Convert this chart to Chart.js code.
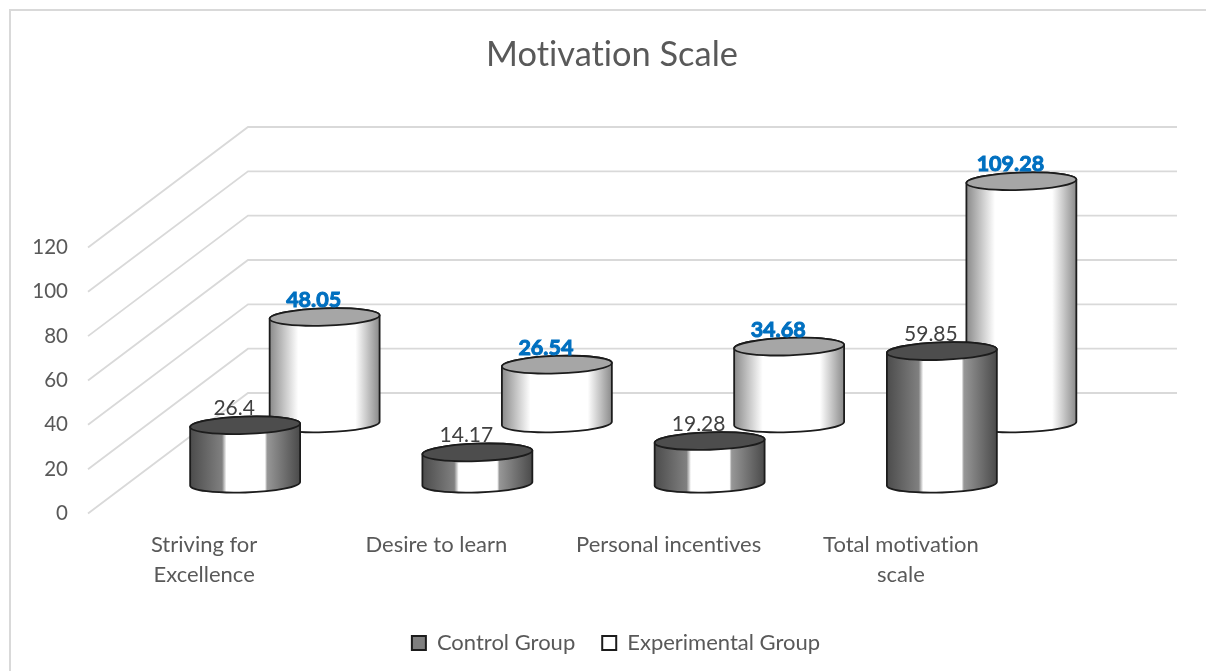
<!DOCTYPE html>
<html lang="en">
<head>
<meta charset="UTF-8"/>
<title>Motivation Scale</title>
<script src="https://cdn.jsdelivr.net/npm/chart.js@4.4.7/dist/chart.umd.min.js"></script>
<style>
*{box-sizing:border-box;margin:0;padding:0}
html,body{width:1206px;height:671px;background:#fff;overflow:hidden}
.wrap{position:relative;width:1206px;height:671px}
</style>
</head>
<body>
<div class="wrap"><canvas id="chart" width="1206" height="671"></canvas></div>
<script>
const categories = [['Striving for', 'Excellence'], 'Desire to learn', 'Personal incentives', ['Total motivation', 'scale']];
const controlGroup = [26.4, 14.17, 19.28, 59.85];
const experimentalGroup = [48.05, 26.54, 34.68, 109.28];
const yTicks = [0, 20, 40, 60, 80, 100, 120];

const FONT = "Lato, 'Open Sans', sans-serif";
const TEXT = '#595959';
const GRID = '#d9d9d9';
// the wall sits this far behind the front plane of the fake 3D box
const WALL_DX = 160;
const WALL_DY = -120.5;
const TILT = -0.033;
const RY = 8.7;

class CylinderController extends Chart.BarController {
  draw() {
    const ctx = this.chart.ctx;
    const ds = this.getDataset();
    const meta = this.getMeta();
    meta.data.forEach((el, i) => {
      const cx = el.x + ds.depthX;
      const top = el.y + ds.depthY;
      const bottom = el.base + ds.depthY;
      const rx = el.width / 2;

      const grad = ctx.createLinearGradient(cx - rx, 0, cx + rx, 0);
      ds.sideStops.forEach(([p, c]) => grad.addColorStop(p, c));

      ctx.save();
      ctx.lineWidth = 1.8;
      ctx.strokeStyle = ds.borderColor;
      ctx.beginPath();
      ctx.ellipse(cx, top, rx, RY, TILT, Math.PI, Math.PI * 2);
      ctx.ellipse(cx, bottom, rx, RY, TILT, 0, Math.PI);
      ctx.closePath();
      ctx.fillStyle = grad;
      ctx.fill();
      ctx.stroke();

      ctx.beginPath();
      ctx.ellipse(cx, top, rx, RY, TILT, 0, Math.PI * 2);
      ctx.fillStyle = ds.topColor;
      ctx.fill();
      ctx.stroke();

      ctx.font = ds.labelFont;
      ctx.fillStyle = ds.labelColor;
      ctx.textAlign = 'center';
      ctx.textBaseline = 'middle';
      const lx = cx - 11;
      const ly = top - 17;
      ctx.fillText(String(ds.data[i]), lx, ly);
      if (ds.labelStroke) {
        ctx.strokeStyle = ds.labelColor;
        ctx.lineWidth = ds.labelStroke;
        ctx.strokeText(String(ds.data[i]), lx, ly);
      }
      ctx.restore();
    });
  }
}
CylinderController.id = 'cylinder';
CylinderController.defaults = Chart.BarController.defaults;
CylinderController.overrides = Chart.BarController.overrides;
Chart.register(CylinderController);

const wallGrid = {
  id: 'wallGrid',
  beforeDatasetsDraw(chart) {
    const { ctx, scales: { y }, chartArea } = chart;
    ctx.save();
    ctx.strokeStyle = GRID;
    ctx.lineWidth = 1.8;
    y.ticks.forEach((t) => {
      const py = y.getPixelForValue(t.value);
      ctx.beginPath();
      ctx.moveTo(chartArea.left, py);
      ctx.lineTo(chartArea.left + WALL_DX, py + WALL_DY);
      ctx.lineTo(chartArea.right + WALL_DX, py + WALL_DY);
      ctx.stroke();
    });
    ctx.restore();
  },
};

const frame = {
  id: 'frame',
  afterLayout(chart) {
    // legend sits a little right of the page centre
    chart.legend.left += 4;
    chart.legend.right += 4;
  },
  beforeDraw(chart) {
    const { ctx } = chart;
    // no ligatures, the "ti" in Lato looks wrong here
    ctx.textRendering = 'optimizeSpeed';
    ctx.save();
    // the crop only shows the top and left edges of the frame
    ctx.strokeStyle = GRID;
    ctx.lineWidth = 2;
    ctx.strokeRect(10, 10, 1300, 800);
    ctx.restore();
  },
};

new Chart(document.getElementById('chart'), {
  type: 'cylinder',
  data: {
    labels: categories,
    datasets: [
      {
        label: 'Control Group',
        data: controlGroup,
        backgroundColor: '#7f7f7f',
        borderColor: '#1c1c1c',
        borderWidth: 2,
        clip: false,
        topColor: '#4d4d4d',
        sideStops: [[0, '#4c4c4c'], [0.29, '#808080'], [0.33, '#ffffff'], [0.68, '#ffffff'], [0.7, '#979797'], [1, '#4a4a4a']],
        depthX: 41,
        depthY: -29.7,
        labelFont: `21px ${FONT}`,
        labelColor: '#404040',
        labelStroke: 0,
      },
      {
        label: 'Experimental Group',
        data: experimentalGroup,
        backgroundColor: '#ffffff',
        borderColor: '#1c1c1c',
        borderWidth: 2,
        clip: false,
        topColor: '#a6a6a6',
        sideStops: [[0, '#8a8a8a'], [0.26, '#ffffff'], [0.78, '#ffffff'], [1, '#8a8a8a']],
        depthX: 120.5,
        depthY: -90,
        labelFont: `bold 21.5px ${FONT}`,
        labelColor: '#0070c0',
        labelStroke: 1,
      },
    ],
  },
  options: {
    responsive: false,
    animation: false,
    events: [],
    grouped: false,
    barThickness: 110,
    layout: { padding: { left: 18, right: 0, top: 0, bottom: 7 } },
    plugins: {
      tooltip: { enabled: false },
      title: {
        display: true,
        text: 'Motivation Scale',
        color: TEXT,
        font: { family: FONT, size: 34.4, weight: 'normal', lineHeight: 1.2 },
        padding: { top: 34.4, bottom: 171.8 },
      },
      legend: {
        position: 'bottom',
        labels: {
          color: TEXT,
          font: { family: FONT, size: 22 },
          boxWidth: 14,
          boxHeight: 14,
          padding: 27,
        },
      },
    },
    scales: {
      x: {
        type: 'category',
        offset: true,
        grid: { display: false },
        border: { display: false },
        ticks: { color: TEXT, font: { family: FONT, size: 22, lineHeight: 1.35 }, padding: 8.5, maxRotation: 0, autoSkip: false },
        afterFit: (s) => { s.height = 91.5; },
      },
      y: {
        type: 'linear',
        min: yTicks[0],
        max: yTicks[yTicks.length - 1],
        grid: { display: false, drawTicks: false },
        border: { display: false },
        ticks: { color: TEXT, font: { family: FONT, size: 20.5 }, padding: 20, stepSize: 20 },
        afterFit: (s) => { s.width = 70; },
      },
      // empty box on the right, keeps room for the depth of the wall
      depthGutter: {
        type: 'linear',
        position: 'right',
        grid: { display: false, drawTicks: false },
        border: { display: false },
        ticks: { display: false },
        afterFit: (s) => { s.width = 189; },
      },
    },
  },
  plugins: [frame, wallGrid],
});
</script>
</body>
</html>
